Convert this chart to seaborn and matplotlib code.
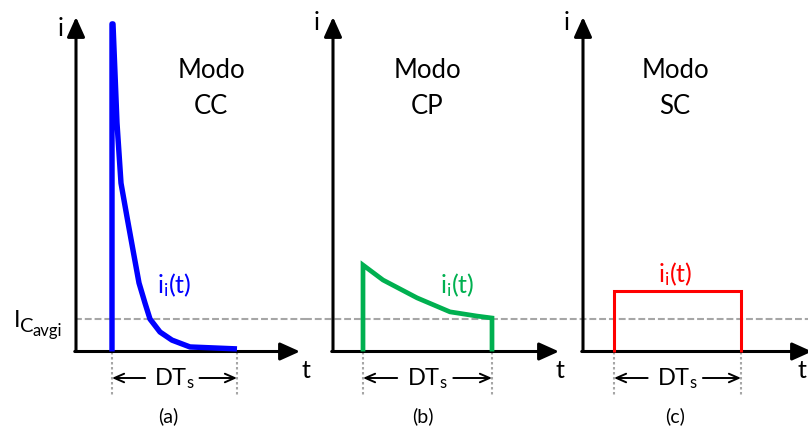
import matplotlib
matplotlib.use("Agg")
import matplotlib.pyplot as plt
import seaborn as sns
import numpy as np
import pandas as pd

# ---------------- data (t normalised to DTs, i normalised to I_Cavgi) ----------------
I_avg = 1.0

cc_t = [0.0, 0.0, 0.008, 0.04, 0.072, 0.12, 0.168, 0.216, 0.264, 0.304, 0.384, 0.48, 0.624, 1.0]
cc_i = [0.0, 10.08, 10.08, 7.03, 5.18, 4.14, 3.12, 2.11, 1.49, 1.0, 0.6, 0.35, 0.14, 0.08]

cp_t = [0.0, 0.0, 0.155, 0.419, 0.674, 0.884, 1.0, 1.0]
cp_i = [0.0, 2.66, 2.2, 1.65, 1.22, 1.09, 1.03, 0.0]

sc_t = [0.0, 0.0, 1.0, 1.0]
sc_i = [0.0, 1.86, 1.86, 0.0]

modes = ["CC", "CP", "SC"]
panel_tags = ["(a)", "(b)", "(c)"]
curve_colors = ["#0000FF", "#00B050", "#FF0000"]

# ---------------- layout (pixels) ----------------
W, H = 808, 428
AXIS_Y = 351.5       # pixel row of the t axis
UNIT_Y = 32.5        # pixels per unit of i
yaxis_px = [76, 333, 583]
pulse_px = [(112, 237), (363, 492), (614, 741)]
col_px = [(0, 305), (305, 560), (560, 808)]
xtip_px = [300, 559, 812]

plt.rcParams["font.family"] = ["Lato", "DejaVu Sans"]
plt.rcParams["mathtext.default"] = "regular"

fig = plt.figure(figsize=(W / 100, H / 100), dpi=100)

def fx(px):
    return px / W

def fy(py):
    return 1 - py / H

series = [(cc_t, cc_i), (cp_t, cp_i), (sc_t, sc_i)]
lws = [3.9, 3.4, 2.2]
joins = ["round", "miter", "miter"]
gray = "#A6A6A6"

for k in range(3):
    cl, cr = col_px[k]
    ps, pe = pulse_px[k]
    sx = (pe - ps)
    ax = fig.add_axes([cl / W, 0, (cr - cl) / W, 1])
    ax.set_xlim((cl - ps) / sx, (cr - ps) / sx)
    ax.set_ylim((AXIS_Y - H) / UNIT_Y, AXIS_Y / UNIT_Y)
    ax.axis("off")

    tx = lambda px: (px - ps) / sx
    ty = lambda py: (AXIS_Y - py) / UNIT_Y

    # average-current dashed reference line
    x0 = tx(75) if k == 0 else ax.get_xlim()[0]
    ax.plot([x0, ax.get_xlim()[1]], [I_avg, I_avg], color=gray, lw=1.5,
            linestyle=(0, (3.3, 1.4)), clip_on=False, zorder=1)

    # axes with arrows
    ya = tx(yaxis_px[k])
    arrow = dict(arrowstyle="-|>,head_length=0.6,head_width=0.27", color="black",
                 lw=2.2, mutation_scale=20, shrinkA=0, shrinkB=0)
    ax.annotate("", xy=(ya, ty(17)), xytext=(ya, 0), arrowprops=arrow,
                annotation_clip=False, zorder=3)
    ax.annotate("", xy=(tx(xtip_px[k]), 0), xytext=(ya - 0.01, 0), arrowprops=arrow,
                annotation_clip=False, zorder=3)

    # the current waveform
    t, i = series[k]
    df = pd.DataFrame({"t": t, "i": i})
    sns.lineplot(data=df, x="t", y="i", sort=False, estimator=None, ax=ax,
                 color=curve_colors[k], lw=lws[k], zorder=4)
    for ln in ax.get_lines()[-1:]:
        ln.set_solid_joinstyle(joins[k])
        ln.set_solid_capstyle("butt")
        ln.set_clip_on(False)
    ax.set_xlabel("")
    ax.set_ylabel("")

    # DTs markers
    for xv in (0.0, 1.0):
        ax.plot([xv, xv], [0, ty(396)], color=gray, lw=1.5,
                linestyle=(0, (1.2, 1.2)), clip_on=False, zorder=2)
    yd = ty(378)
    small = dict(arrowstyle="->,head_length=0.5,head_width=0.22", color="black",
                 lw=1.4, mutation_scale=14, shrinkA=0, shrinkB=0)
    ax.annotate("", xy=(0.0, yd), xytext=(0.265, yd), arrowprops=small,
                annotation_clip=False)
    ax.annotate("", xy=(1.0, yd), xytext=(0.70, yd), arrowprops=small,
                annotation_clip=False)

# ---------------- texts ----------------
FS = 18.5
modo_x = [211, 427, 675]
for k in range(3):
    fig.text(fx(modo_x[k]), fy(71), "Modo", ha="center", va="center", fontsize=FS)
    fig.text(fx(modo_x[k]), fy(107), modes[k], ha="center", va="center", fontsize=FS)

ilab = [(174, 285), (457, 285), (675, 274)]
for k in range(3):
    fig.text(fx(ilab[k][0]), fy(ilab[k][1]), r"$\mathregular{i_i(t)}$", ha="center",
             va="center", fontsize=18, color=curve_colors[k])

for k in range(3):
    ps, pe = pulse_px[k]
    fig.text(fx((ps + pe) / 2), fy(379), r"$\mathregular{DT_s}$", ha="center",
             va="center", fontsize=17)

tag_x = [168, 423, 675]
for k in range(3):
    fig.text(fx(tag_x[k]), fy(416), panel_tags[k], ha="center", va="center", fontsize=14)

for xi, yi in [(61, 28), (317, 22), (567, 22)]:
    fig.text(fx(xi), fy(yi), "i", ha="center", va="center", fontsize=18)
for xt in (306, 560, 802):
    fig.text(fx(xt), fy(371), "t", ha="center", va="center", fontsize=18)

# I_{C_{avgi}} built from three pieces
fig.text(fx(14), fy(327), "I", ha="left", va="baseline", fontsize=17)
fig.text(fx(20), fy(332), "C", ha="left", va="baseline", fontsize=14.5)
fig.text(fx(32.5), fy(336), "avgi", ha="left", va="baseline", fontsize=12)

fig.savefig("out.png", dpi=100, facecolor="white")
